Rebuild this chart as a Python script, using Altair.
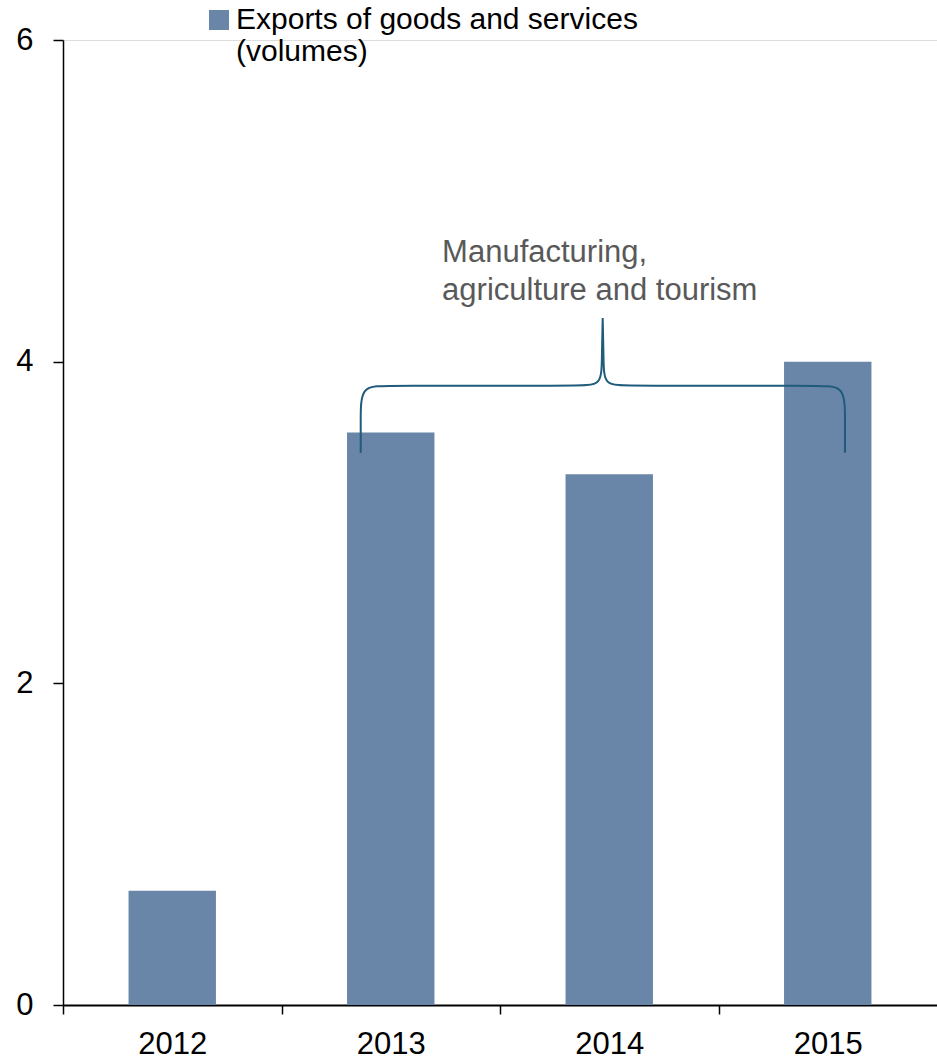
import altair as alt
import pandas as pd

# ---- data ----
years = ["2012", "2013", "2014", "2015"]
exports = [0.71, 3.56, 3.30, 4.00]
series_name = "Exports of goods and services (volumes)"

# annotation brace (x in category units across the 4 slots, y in chart units)
brace_x = [1.3625, 1.3625, 1.3625, 1.4737, 2.3661, 2.4645, 2.4659, 2.4700, 2.4700, 2.4700,
           2.4741, 2.4755, 2.5739, 3.4664, 3.5789, 3.5789, 3.5789]
brace_y = [3.433, 3.638, 3.851, 3.851, 3.851, 3.851, 4.011, 4.272, 4.272, 4.272,
           4.011, 3.851, 3.851, 3.851, 3.851, 3.638, 3.433]
note_text = "Manufacturing,\nagriculture and tourism"
note_x = [1.735]
note_y = [4.622]

FONT = "Liberation Sans"
BAR = "#6985A8"
BRACE = "#1F5B7B"

bars_df = pd.DataFrame({"year": years, "value": exports, "series": [series_name] * len(years)})
brace_df = pd.DataFrame({"x": brace_x, "y": brace_y, "i": list(range(len(brace_x)))})
note_df = pd.DataFrame({"x": note_x, "y": note_y, "t": [note_text]})

yscale = alt.Scale(domain=[0, 6], nice=False, zero=True)
xq = alt.Scale(domain=[0, 4], nice=False, zero=False)

bars = alt.Chart(bars_df).mark_bar().encode(
    x=alt.X("year:N", sort=years,
            scale=alt.Scale(paddingInner=0.6, paddingOuter=0.3),
            axis=alt.Axis(title=None, labelAngle=0, labelFont=FONT, labelFontSize=31,
                          labelColor="black", tickSize=9, labelPadding=15,
                          tickOffset=-109.25, labelOffset=109.25,
                          domainColor="black", tickColor="black",
                          domainWidth=2, tickWidth=1.5, grid=False)),
    y=alt.Y("value:Q", scale=yscale,
            axis=alt.Axis(title=None, values=[0, 2, 4, 6], format="d",
                          labelFont=FONT, labelFontSize=31,
                          labelColor="black", tickSize=10, labelPadding=20,
                          domainColor="black", tickColor="black",
                          domainWidth=1.5, tickWidth=1.5, grid=False)),
    color=alt.Color("series:N", scale=alt.Scale(range=[BAR]),
                    legend=alt.Legend(title=None, orient="none", legendX=141, legendY=-35,
                                      symbolType="square", symbolSize=400,
                                      symbolStrokeWidth=0, symbolOffset=0,
                                      labelFont=FONT, labelFontSize=30, labelColor="black",
                                      labelLimit=800, labelOffset=2,
                                      labelExpr="split(replace(datum.label, ' (', '|('), '|')")),
)

brace = alt.Chart(brace_df).mark_line(interpolate="basis", color=BRACE, strokeWidth=2).encode(
    x=alt.X("x:Q", scale=xq, axis=None),
    y=alt.Y("y:Q", scale=yscale),
    order="i:O",
)

note = alt.Chart(note_df).mark_text(align="left", baseline="alphabetic", font=FONT,
                                    fontSize=31, color="#595959", lineBreak="\n",
                                    lineHeight=38).encode(
    x=alt.X("x:Q", scale=xq, axis=None),
    y=alt.Y("y:Q", scale=yscale),
    text="t:N",
)

chart = alt.layer(bars, alt.layer(brace, note)).resolve_scale(x="independent").properties(
    width=874, height=965,
    autosize=alt.AutoSizeParams(type="none"),
    padding={"left": 63, "top": 40, "right": 0, "bottom": 56},
).configure_view(stroke=None).configure(background="white")

chart.save("out.html", embed_options={"renderer": "svg", "actions": False})
